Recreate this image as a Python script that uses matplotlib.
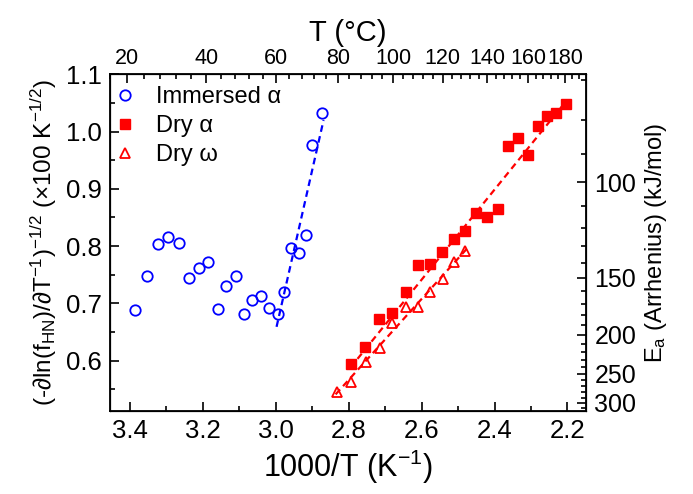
import numpy as np
import matplotlib
matplotlib.use("Agg")
import matplotlib.pyplot as plt
from matplotlib.ticker import MultipleLocator, FormatStrFormatter

plt.rcParams['font.family'] = ['Liberation Sans', 'DejaVu Sans']
plt.rcParams['mathtext.fontset'] = 'custom'
plt.rcParams['mathtext.rm'] = 'Liberation Sans'
plt.rcParams['mathtext.it'] = 'Liberation Sans:italic'

# Immersed alpha (blue open circles)
imm_x = [3.386, 3.354, 3.324, 3.296, 3.267, 3.238, 3.212, 3.186, 3.159, 3.137, 3.110,
         3.087, 3.064, 3.040, 3.018, 2.995, 2.978, 2.957, 2.937, 2.917, 2.901, 2.872]
imm_y = [0.689, 0.748, 0.803, 0.815, 0.805, 0.745, 0.761, 0.772, 0.690, 0.731, 0.748,
         0.681, 0.706, 0.713, 0.692, 0.682, 0.719, 0.796, 0.788, 0.820, 0.977, 1.033]

# Dry alpha (red filled squares)
dry_a_x = [2.793, 2.755, 2.717, 2.680, 2.644, 2.610, 2.577, 2.543, 2.512, 2.480,
           2.450, 2.420, 2.390, 2.363, 2.335, 2.308, 2.281, 2.256, 2.230, 2.205]
dry_a_y = [0.594, 0.623, 0.673, 0.684, 0.720, 0.767, 0.768, 0.790, 0.812, 0.827,
           0.857, 0.851, 0.864, 0.975, 0.989, 0.959, 1.009, 1.027, 1.033, 1.049]

# Dry omega (red open triangles)
dry_w_x = [2.833, 2.793, 2.753, 2.715, 2.680, 2.644, 2.609, 2.576, 2.542, 2.510, 2.480]
dry_w_y = [0.546, 0.563, 0.597, 0.622, 0.665, 0.693, 0.693, 0.720, 0.743, 0.772, 0.791]

# dashed fit lines (end points)
fit_imm_x, fit_imm_y = [2.998, 2.869], [0.659, 1.020]
fit_a_x, fit_a_y = [2.795, 2.210], [0.588, 1.048]
fit_w_x, fit_w_y = [2.836, 2.475], [0.541, 0.796]

# secondary axes labels
temp_major = [20, 40, 60, 80, 100, 120, 140, 160, 180]
temp_minor = list(range(16, 190, 4))
ea_major = [100, 150, 200, 250, 300]
ea_minor = list(range(70, 320, 10))
EA_CONST = 83.14  # Ea (kJ/mol) = R*10 / y^2

fig = plt.figure(figsize=(6.93, 4.94), dpi=100)
ax = fig.add_axes([0.1587, 0.168, 0.6869, 0.6816])

ax.plot(fit_imm_x, fit_imm_y, '--', color='blue', lw=1.6, dashes=(3, 2))
ax.plot(fit_a_x, fit_a_y, '--', color='red', lw=1.6, dashes=(3, 2))
ax.plot(fit_w_x, fit_w_y, '--', color='red', lw=1.6, dashes=(3, 2))

ax.plot(imm_x, imm_y, 'o', mfc='none', mec='blue', mew=1.3, ms=7.5, label='Immersed α')
ax.plot(dry_a_x, dry_a_y, 's', color='red', ms=6.5, label='Dry α')
ax.plot(dry_w_x, dry_w_y, '^', mfc='none', mec='red', mew=1.3, ms=7.5, label='Dry ω')

ax.set_xlim(3.455, 2.149)
ax.set_ylim(0.512, 1.1)
ax.xaxis.set_major_locator(MultipleLocator(0.2))
ax.xaxis.set_minor_locator(MultipleLocator(0.1))
ax.yaxis.set_major_locator(MultipleLocator(0.1))
ax.yaxis.set_minor_locator(MultipleLocator(0.05))
ax.tick_params(which='both', direction='in', labelsize=18.5, width=1.2, pad=6)
ax.tick_params(which='major', length=6.5)
ax.tick_params(which='minor', length=3.5)
ax.xaxis.set_major_formatter(FormatStrFormatter('%.1f'))
ax.yaxis.set_major_formatter(FormatStrFormatter('%.1f'))
for s in ax.spines.values():
    s.set_linewidth(1.3)

ax.set_xlabel('1000/T (K$^{-1}$)', fontsize=22, labelpad=3)
ax.set_ylabel('(-∂ln(f$_{\\mathrm{HN}}$)/∂T$^{-1}$)$^{-1/2}$ (×100 K$^{-1/2}$)',
              fontsize=17.5, labelpad=5)

leg = ax.legend(loc='upper left', frameon=False, fontsize=17, handlelength=1.0,
                handletextpad=0.8, labelspacing=0.3, borderaxespad=0.1,
                bbox_to_anchor=(-0.018, 1.0))

# top axis: temperature in Celsius
top = ax.twiny()
top.set_xlim(ax.get_xlim())
top.set_xticks([1000 / (t + 273.15) for t in temp_major])
top.set_xticklabels([str(t) for t in temp_major])
top.set_xticks([1000 / (t + 273.15) for t in temp_minor], minor=True)
top.tick_params(which='both', direction='in', labelsize=15.5, width=1.2, pad=4)
top.tick_params(which='major', length=6.5)
top.tick_params(which='minor', length=3.5)
top.set_xlabel('T (°C)', fontsize=21, labelpad=5)

# right axis: activation energy
right = ax.twinx()
right.set_ylim(ax.get_ylim())
right.set_yticks([np.sqrt(EA_CONST / e) for e in ea_major])
right.set_yticklabels([str(e) for e in ea_major])
right.set_yticks([np.sqrt(EA_CONST / e) for e in ea_minor], minor=True)
right.tick_params(which='both', direction='in', labelsize=18, width=1.2, pad=6)
right.tick_params(which='major', length=6.5)
right.tick_params(which='minor', length=3.5)
right.set_ylabel('E$_{\\mathrm{a}}$ (Arrhenius) (kJ/mol)', fontsize=17, labelpad=5)

fig.savefig('out.png', dpi=100)
